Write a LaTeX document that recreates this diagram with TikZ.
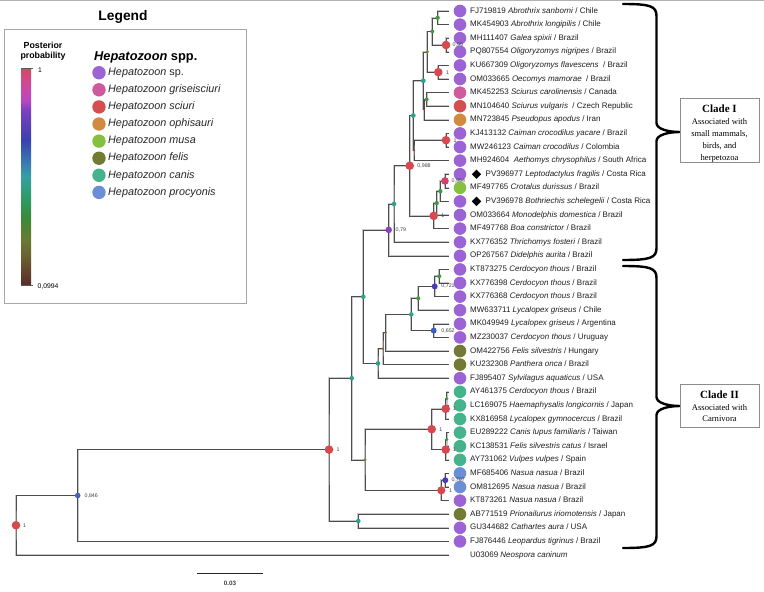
\documentclass[tikz,border=0pt]{standalone}
\usepackage{fontspec}
\setmainfont{Liberation Sans}
\newfontfamily\clserif{Liberation Serif}
\usetikzlibrary{shapes.geometric}
\definecolor{csp}{HTML}{9B63D3}
\definecolor{cgri}{HTML}{CF5A9E}
\definecolor{csci}{HTML}{D4504E}
\definecolor{coph}{HTML}{D08B40}
\definecolor{cmus}{HTML}{86C040}
\definecolor{cfel}{HTML}{737A33}
\definecolor{ccan}{HTML}{45B38C}
\definecolor{cpro}{HTML}{6A8FD6}
\definecolor{nred}{HTML}{D8484F}
\definecolor{npink}{HTML}{D2426E}
\definecolor{npurp}{HTML}{8A40C2}
\definecolor{nindi}{HTML}{4A3CB8}
\definecolor{nblue}{HTML}{3C5EC0}
\definecolor{nblue2}{HTML}{4466B4}
\definecolor{nteal}{HTML}{2FA08C}
\definecolor{ngreen}{HTML}{3F9A3F}
\definecolor{nolive}{HTML}{7A8A2A}
\definecolor{nbrown}{HTML}{8A5A2A}
\definecolor{ntiny}{HTML}{C03030}
\definecolor{cb0}{HTML}{5A2A2A}
\definecolor{cb1}{HTML}{6B5A30}
\definecolor{cb2}{HTML}{6A7A35}
\definecolor{cb3}{HTML}{3A8A3A}
\definecolor{cb4}{HTML}{2E9A60}
\definecolor{cb5}{HTML}{35A0A0}
\definecolor{cb6}{HTML}{3A88B0}
\definecolor{cb7}{HTML}{3A40B0}
\definecolor{cb8}{HTML}{8040C0}
\definecolor{cb9}{HTML}{B848C0}
\definecolor{cb10}{HTML}{D0489A}
\definecolor{cb11}{HTML}{D44A5C}
\pgfdeclareverticalshading{ppbar}{100bp}{color(0bp)=(cb0); color(25bp)=(cb0); color(30.75bp)=(cb1); color(35.5bp)=(cb2); color(40.5bp)=(cb3); color(44.5bp)=(cb4); color(50bp)=(cb5); color(52bp)=(cb6); color(58.5bp)=(cb7); color(65.5bp)=(cb8); color(67.5bp)=(cb9); color(71.5bp)=(cb10); color(75bp)=(cb11); color(100bp)=(cb11)}
\newcommand\tipleaf[3]{%
  \pgfmathsetmacro\ty{11+13.6*(#1-1)}%
  \coordinate (t#1) at (449,\ty);
  \node[tipdot,fill=#2] (d#1) at (460,\ty) {};
  \node[tiplab] (l#1) at (470,\ty) {#3};}
\newcommand\tipdia[3]{%
  \pgfmathsetmacro\ty{11+13.6*(#1-1)}%
  \coordinate (t#1) at (449,\ty);
  \node[tipdot,fill=#2] (d#1) at (460,\ty) {};
  \node[diamond,fill=black,inner sep=0,minimum size=9.5pt] (m#1) at (476.5,\ty) {};
  \node[tiplab] (l#1) at (485.5,\ty) {#3};}
\newcommand\bra[3]{\draw[branch] (#2) -| (#1) |- (#3);}
\newcommand\ndot[3]{\node[circle,fill=#2,inner sep=0,minimum size=#3*2pt] (#1d) at (#1) {};}
\newcommand\nlab[3]{\node[nodelab] (#1l) at ([xshift=#3pt]#1) {#2};}
\newcommand\cbrace[3]{\draw[bracestyle] (623,#1) .. controls (650,#1) and (656.5,#1+2) .. (656.5,#1+12) -- (656.5,#2-9) .. controls (656.5,#2-3) and (668,#2) .. (680,#2) .. controls (668,#2) and (656.5,#2+3) .. (656.5,#2+9) -- (656.5,#3-12) .. controls (656.5,#3-2) and (650,#3) .. (623,#3);}
\begin{document}
\begin{tikzpicture}[x=1pt,y=-1pt,
  branch/.style={draw=black!70,line width=0.6pt,preaction={draw=black!22,line width=1.7pt}},
  tipdot/.style={circle,inner sep=0,minimum size=12.6pt},
  tiplab/.style={anchor=west,inner sep=0,text height=5.8pt,text depth=1.6pt,font=\fontsize{8}{9}\selectfont,text=black!88},
  nodelab/.style={anchor=west,inner sep=0,font=\fontsize{5.3}{6}\selectfont,text=black!75},
  legdot/.style={circle,inner sep=0,minimum size=13.4pt},
  leglab/.style={anchor=west,inner sep=0,font=\fontsize{10.8}{12}\selectfont,text=black!85},
  bracestyle/.style={draw=black,line width=2.4pt,line cap=round},
  cladebox/.style={draw=black!45,line width=0.7pt,inner sep=0}]
\useasboundingbox (0,0) rectangle (764,592);
\fill[white] (0,0) rectangle (764,592);
\draw[black!30,line width=0.8pt] (0,0.6) -- (764,0.6);

% ---------- legend ----------
\node[font=\bfseries\fontsize{13.8}{15}\selectfont] (legt) at (123,17) {Legend};
\draw[black!35,line width=0.8pt] (4,29) rectangle (246,303);
\node[align=center,font=\bfseries\fontsize{8.8}{10}\selectfont,inner sep=0] (ppt) at (43,51) {Posterior\\probability};
\shade[shading=ppbar] (21,68) rectangle (31,285);
\draw[black!65,line width=0.5pt] (21,68) -- (33,68);
\draw[black!65,line width=0.5pt] (21,285) -- (33,285);
\node[anchor=west,inner sep=0,font=\fontsize{6.8}{8}\selectfont] (pp1) at (38,70.5) {1};
\node[anchor=west,inner sep=0,font=\fontsize{6.8}{8}\selectfont] (pp0) at (37.5,287) {0,0994};
\node[anchor=west,inner sep=0,font=\bfseries\fontsize{12.8}{14}\selectfont] (hsp) at (94,57) {\textit{Hepatozoon} spp.};
\foreach \k/\c/\t in {0/csp/{\textit{Hepatozoon} sp.},1/cgri/{\textit{Hepatozoon griseisciuri}},2/csci/{\textit{Hepatozoon sciuri}},3/coph/{\textit{Hepatozoon ophisauri}},4/cmus/{\textit{Hepatozoon musa}},5/cfel/{\textit{Hepatozoon felis}},6/ccan/{\textit{Hepatozoon canis}},7/cpro/{\textit{Hepatozoon procyonis}}}{
  \node[legdot,fill=\c] (ld\k) at (99,{72.7+17.1*\k}) {};
  \node[leglab] (ll\k) at (108,{72.7+17.1*\k}) {\t};
}

% ---------- internal nodes ----------
\coordinate (a12) at (437.7,17.8);
\coordinate (a34) at (446,45);
\coordinate (a1234) at (432.3,31.4);
\coordinate (a56) at (438.3,72.2);
\coordinate (a16) at (427.3,51.8);
\coordinate (a78) at (426.7,99.4);
\coordinate (a789) at (424.3,109.6);
\coordinate (a19) at (423.3,80.7);
\coordinate (a1011) at (446,140.2);
\coordinate (a1012) at (414,150.4);
\coordinate (a112) at (413.3,115.55);
\coordinate (a1314) at (445,181);
\coordinate (a1315) at (440.3,191.2);
\coordinate (a1316) at (436.7,203.1);
\coordinate (a1317) at (433.7,215.85);
\coordinate (a117) at (409.7,165.7);
\coordinate (a118) at (394,203.95);
\coordinate (cI) at (388.7,229.9);
\coordinate (b2021) at (439.3,276.2);
\coordinate (b2022) at (434.7,286.4);
\coordinate (b2023) at (418.3,298.3);
\coordinate (b2425) at (433.7,330.6);
\coordinate (b2025) at (411.3,314.45);
\coordinate (b2026) at (385.7,332.7);
\coordinate (b2027) at (383,348.65);
\coordinate (b2028) at (378,363.4);
\coordinate (c12) at (363.3,296.65);
\coordinate (b2930) at (446.7,398.6);
\coordinate (b2931) at (445.7,408.8);
\coordinate (b3233) at (446.7,439.4);
\coordinate (b3234) at (445.7,449.6);
\coordinate (b2934) at (431.7,429.2);
\coordinate (b3536) at (445.3,480.2);
\coordinate (b3537) at (441.3,490.4);
\coordinate (b2937) at (365,459.8);
\coordinate (dd) at (351.7,378.2);
\coordinate (b3839) at (358.3,521);
\coordinate (ee) at (329,449.6);
\coordinate (ff) at (77.7,495.5);
\coordinate (rt) at (16,525.25);
\foreach \i in {1,...,41}{\coordinate (t\i) at (449,{11+13.6*(\i-1)});}

% ---------- branches ----------
\bra{a12}{t1}{t2}
\bra{a34}{t3}{t4}
\bra{a1234}{a12}{a34}
\bra{a56}{t5}{t6}
\bra{a16}{a1234}{a56}
\bra{a78}{t7}{t8}
\bra{a789}{a78}{t9}
\bra{a19}{a16}{a789}
\bra{a1011}{t10}{t11}
\bra{a1012}{a1011}{t12}
\bra{a112}{a19}{a1012}
\bra{a1314}{t13}{t14}
\bra{a1315}{a1314}{t15}
\bra{a1316}{a1315}{t16}
\bra{a1317}{a1316}{t17}
\bra{a117}{a112}{a1317}
\bra{a118}{a117}{t18}
\bra{cI}{a118}{t19}
\bra{b2021}{t20}{t21}
\bra{b2022}{b2021}{t22}
\bra{b2023}{b2022}{t23}
\bra{b2425}{t24}{t25}
\bra{b2025}{b2023}{b2425}
\bra{b2026}{b2025}{t26}
\bra{b2027}{b2026}{t27}
\bra{b2028}{b2027}{t28}
\bra{c12}{cI}{b2028}
\bra{b2930}{t29}{t30}
\bra{b2931}{b2930}{t31}
\bra{b3233}{t32}{t33}
\bra{b3234}{b3233}{t34}
\bra{b2934}{b2931}{b3234}
\bra{b3536}{t35}{t36}
\bra{b3537}{b3536}{t37}
\bra{b2937}{b2934}{b3537}
\bra{dd}{c12}{b2937}
\bra{b3839}{t38}{t39}
\bra{ee}{dd}{b3839}
\bra{ff}{ee}{t40}
\bra{rt}{ff}{t41}

% ---------- node dots ----------
\ndot{a12}{ngreen}{2.1}
\ndot{a34}{nred}{4.3}
\ndot{a1234}{ngreen}{2}
\ndot{a56}{nred}{4.3}
\ndot{a16}{nolive}{1.8}
\ndot{a78}{ngreen}{2}
\ndot{a789}{ntiny}{1}
\ndot{a19}{nteal}{2.4}
\ndot{a1011}{nred}{4.3}
\ndot{a1012}{ntiny}{1}
\ndot{a112}{nteal}{2.4}
\ndot{a1314}{npink}{3.8}
\ndot{a1315}{ngreen}{2.2}
\ndot{a1316}{ngreen}{2.2}
\ndot{a1317}{nred}{4.3}
\ndot{a117}{nred}{4.3}
\ndot{a118}{nteal}{2.3}
\ndot{cI}{npurp}{3.3}
\ndot{b2021}{ngreen}{2}
\ndot{b2022}{nindi}{3}
\ndot{b2023}{ngreen}{2}
\ndot{b2425}{nblue}{3}
\ndot{b2025}{nteal}{2.3}
\ndot{b2026}{nbrown}{1.1}
\ndot{b2027}{nbrown}{1.1}
\ndot{b2028}{nteal}{2.3}
\ndot{c12}{nteal}{2.3}
\ndot{b2930}{ngreen}{1.8}
\ndot{b2931}{nred}{4.3}
\ndot{b3233}{ngreen}{1.8}
\ndot{b3234}{nred}{4.3}
\ndot{b2934}{nred}{4.3}
\ndot{b3536}{nindi}{3}
\ndot{b3537}{nred}{4.1}
\ndot{b2937}{nolive}{1.6}
\ndot{dd}{nteal}{2.3}
\ndot{b3839}{nteal}{2.3}
\ndot{ee}{nred}{4.3}
\ndot{ff}{nblue2}{2.8}
\ndot{rt}{nred}{4.3}

% ---------- tips ----------
\tipleaf{1}{csp}{FJ719819 \textit{Abrothrix sanborni} / Chile}
\tipleaf{2}{csp}{MK454903 \textit{Abrothrix longipilis} / Chile}
\tipleaf{3}{csp}{MH111407 \textit{Galea spixii} / Brazil}
\tipleaf{4}{csp}{PQ807554 \textit{Oligoryzomys nigripes} / Brazil}
\tipleaf{5}{csp}{KU667309 \textit{Oligoryzomys flavescens}\ \ / Brazil}
\tipleaf{6}{csp}{OM033665 \textit{Oecomys mamorae}\ \ / Brazil}
\tipleaf{7}{cgri}{MK452253 \textit{Sciurus carolinensis} / Canada}
\tipleaf{8}{csci}{MN104640 \textit{Sciurus vulgaris}\ \ / Czech Republic}
\tipleaf{9}{coph}{MN723845 \textit{Pseudopus apodus} / Iran}
\tipleaf{10}{csp}{KJ413132 \textit{Caiman crocodilus yacare} / Brazil}
\tipleaf{11}{csp}{MW246123 \textit{Caiman crocodilus} / Colombia}
\tipleaf{12}{csp}{MH924604\ \ \textit{Aethomys chrysophilus} / South Africa}
\tipdia{13}{csp}{PV396977 \textit{Leptodactylus fragilis} / Costa Rica}
\tipleaf{14}{cmus}{MF497765 \textit{Crotalus durissus} / Brazil}
\tipdia{15}{csp}{PV396978 \textit{Bothriechis schelegelii} / Costa Rica}
\tipleaf{16}{csp}{OM033664 \textit{Monodelphis domestica} / Brazil}
\tipleaf{17}{csp}{MF497768 \textit{Boa constrictor} / Brazil}
\tipleaf{18}{csp}{KX776352 \textit{Thrichomys fosteri} / Brazil}
\tipleaf{19}{csp}{OP267567 \textit{Didelphis aurita} / Brazil}
\tipleaf{20}{csp}{KT873275 \textit{Cerdocyon thous} / Brazil}
\tipleaf{21}{csp}{KX776398 \textit{Cerdocyon thous} / Brazil}
\tipleaf{22}{csp}{KX776368 \textit{Cerdocyon thous} / Brazil}
\tipleaf{23}{csp}{MW633711 \textit{Lycalopex griseus} / Chile}
\tipleaf{24}{csp}{MK049949 \textit{Lycalopex griseus} / Argentina}
\tipleaf{25}{csp}{MZ230037 \textit{Cerdocyon thous} / Uruguay}
\tipleaf{26}{cfel}{OM422756 \textit{Felis silvestris} / Hungary}
\tipleaf{27}{cfel}{KU232308 \textit{Panthera onca} / Brazil}
\tipleaf{28}{csp}{FJ895407 \textit{Sylvilagus aquaticus} / USA}
\tipleaf{29}{ccan}{AY461375 \textit{Cerdocyon thous} / Brazil}
\tipleaf{30}{ccan}{LC169075 \textit{Haemaphysalis longicornis} / Japan}
\tipleaf{31}{ccan}{KX816958 \textit{Lycalopex gymnocercus} / Brazil}
\tipleaf{32}{ccan}{EU289222 \textit{Canis lupus familiaris} / Taiwan}
\tipleaf{33}{ccan}{KC138531 \textit{Felis silvestris catus} / Israel}
\tipleaf{34}{ccan}{AY731062 \textit{Vulpes vulpes} / Spain}
\tipleaf{35}{cpro}{MF685406 \textit{Nasua nasua} / Brazil}
\tipleaf{36}{cpro}{OM812695 \textit{Nasua nasua} / Brazil}
\tipleaf{37}{csp}{KT873261 \textit{Nasua nasua} / Brazil}
\tipleaf{38}{cfel}{AB771519 \textit{Prionailurus iriomotensis} / Japan}
\tipleaf{39}{csp}{GU344682 \textit{Cathartes aura} / USA}
\tipleaf{40}{csp}{FJ876446 \textit{Leopardus tigrinus} / Brazil}
\node[tiplab] (l41) at (470,555) {U03069 \textit{Neospora caninum}};

% ---------- node labels ----------
\nlab{a34}{0,95}{6.5}
\nlab{a56}{1}{7.5}
\nlab{a1011}{1}{7.5}
\nlab{a1314}{0,954}{6.5}
\nlab{a1317}{1}{7.5}
\nlab{a117}{0,988}{7.5}
\nlab{cI}{0,79}{6.8}
\nlab{b2022}{0,721}{6.5}
\nlab{b2425}{0,652}{7.5}
\nlab{b2931}{1}{7}
\nlab{b3234}{1}{7}
\nlab{b2934}{1}{7.5}
\nlab{b3536}{0,707}{6}
\nlab{b3537}{1}{7.5}
\nlab{ee}{1}{7.5}
\nlab{ff}{0,846}{6.7}
\nlab{rt}{1}{7}

% ---------- clade braces and boxes ----------
\cbrace{4}{132}{260}
\cbrace{266}{406}{548}
\node[cladebox,minimum width=79pt,minimum height=64pt] (boxI) at (719.5,130) {};
\node[align=center,inner sep=0,font=\clserif\fontsize{8.6}{11.8}\selectfont] (txtI) at (719.5,133.5) {{\bfseries\fontsize{11}{12}\selectfont Clade I}\\Associated with\\small mammals,\\birds, and\\herpetozoa};
\node[cladebox,minimum width=79pt,minimum height=43pt] (boxII) at (719.5,405.5) {};
\node[align=center,inner sep=0,font=\clserif\fontsize{8.6}{11.5}\selectfont] (txtII) at (719.5,406.5) {{\bfseries\fontsize{11}{12}\selectfont Clade II}\\Associated with\\Carnivora};

% ---------- scale bar ----------
\coordinate (sb1) at (197,573.3);
\coordinate (sb2) at (263,573.3);
\draw[black!85,line width=0.8pt] (sb1) -- (sb2);
\node[inner sep=0,font=\bfseries\fontsize{6.3}{7}\selectfont,text=black!75] (sbl) at (230,583) {0.03};
\end{tikzpicture}
\end{document}
